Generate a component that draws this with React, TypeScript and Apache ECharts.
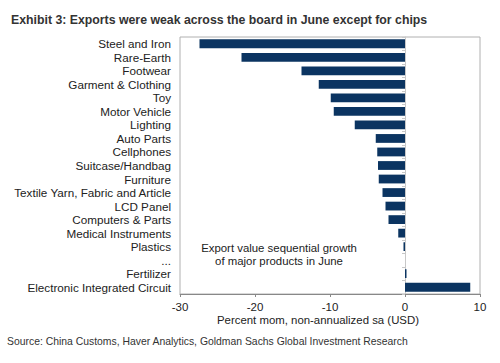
import React, { useEffect, useRef } from "react";
import * as echarts from "echarts";

const categories = [
  "Steel and Iron",
  "Rare-Earth",
  "Footwear",
  "Garment & Clothing",
  "Toy",
  "Motor Vehicle",
  "Lighting",
  "Auto Parts",
  "Cellphones",
  "Suitcase/Handbag",
  "Furniture",
  "Textile Yarn, Fabric and Article",
  "LCD Panel",
  "Computers & Parts",
  "Medical Instruments",
  "Plastics",
  "...",
  "Fertilizer",
  "Electronic Integrated Circuit",
];

const values = [
  -27.4, -21.8, -13.8, -11.5, -9.9, -9.5, -6.7, -3.9, -3.7, -3.6, -3.5, -3.0,
  -2.6, -2.2, -0.9, -0.2, 0, 0.2, 8.7,
];

const xTicks = { min: -30, max: 10, interval: 10 };

const titleText = "Exhibit 3: Exports were weak across the board in June except for chips";
const axisName = "Percent mom, non-annualized sa (USD)";
const sourceText =
  "Source: China Customs, Haver Analytics, Goldman Sachs Global Investment Research";
const noteLines = ["Export value sequential growth", "of major products in June"];

const FONT = "'Liberation Sans', Arial, sans-serif";

export default function App() {
  const ref = useRef<HTMLDivElement>(null);
  useEffect(() => {
    if (!ref.current) return;
    const chart = echarts.init(ref.current, null, { renderer: "svg" });
    chart.setOption({
      animation: false,
      backgroundColor: "#ffffff",
      textStyle: { fontFamily: FONT },
      title: {
        text: titleText,
        left: 6,
        top: 9,
        textStyle: { fontFamily: FONT, fontSize: 12.3, fontWeight: "bold", color: "#333333" },
      },
      grid: {
        left: 180,
        right: 20,
        top: 37,
        bottom: 69,
        show: true,
        borderColor: "#b0b0b0",
        borderWidth: 1,
        containLabel: false,
      },
      xAxis: {
        type: "value",
        min: xTicks.min,
        max: xTicks.max,
        interval: xTicks.interval,
        axisLine: { show: true, lineStyle: { color: "#888888" } },
        axisTick: { show: true, length: 3, lineStyle: { color: "#888888" } },
        axisLabel: { fontFamily: FONT, fontSize: 11.5, color: "#222222", margin: 7 },
        splitLine: { show: false },
      },
      yAxis: {
        type: "category",
        inverse: true,
        data: categories,
        axisLine: { show: true, lineStyle: { color: "#c8c8c8" } },
        axisTick: { show: true, length: 3, lineStyle: { color: "#c8c8c8" } },
        axisLabel: {
          interval: 0,
          fontFamily: FONT,
          fontSize: 11.7,
          color: "#222222",
          margin: 9,
        },
        splitLine: { show: false },
      },
      series: [
        {
          type: "bar",
          data: values,
          barCategoryGap: "35%",
          itemStyle: { color: "#0b3461" },
        },
      ],
      graphic: [
        {
          type: "text",
          x: 318,
          y: 320,
          style: {
            text: axisName,
            fontFamily: FONT,
            fontSize: 11.4,
            fill: "#222222",
            align: "center",
            verticalAlign: "middle",
          },
        },
        {
          type: "text",
          left: 7,
          top: 336,
          style: { text: sourceText, fontFamily: FONT, fontSize: 10.4, fill: "#333333" },
        },
        {
          type: "text",
          x: 279,
          y: 254,
          style: {
            text: noteLines.join("\n"),
            fontFamily: FONT,
            fontSize: 11.4,
            fill: "#222222",
            align: "center",
            verticalAlign: "middle",
            lineHeight: 13,
          },
        },
      ],
    });
    return () => chart.dispose();
  }, []);
  return (
    <div
      ref={ref}
      style={{ position: "fixed", left: 0, top: 0, width: 500, height: 363 }}
    />
  );
}
